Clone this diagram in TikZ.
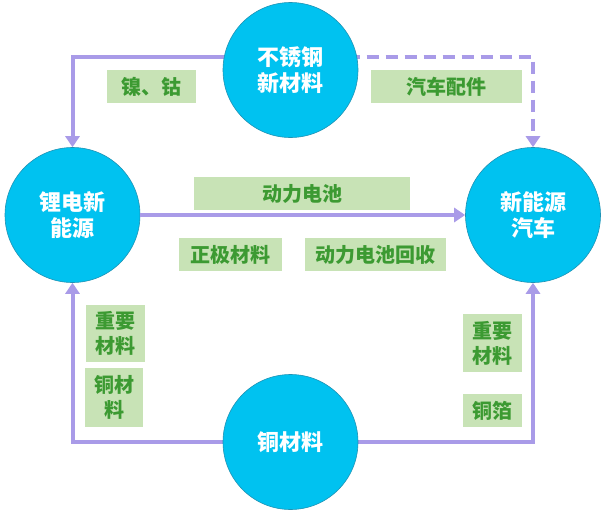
\documentclass[tikz,border=0pt]{standalone}
\usepackage{fontspec}
\setmainfont{Noto Sans CJK SC}[BoldFont={Noto Sans CJK SC Black}]
\usetikzlibrary{arrows.meta,backgrounds}
\definecolor{cyanfill}{HTML}{00C2F0}
\definecolor{cyanedge}{HTML}{1E93B5}
\definecolor{lav}{HTML}{A99BE8}
\definecolor{boxfill}{HTML}{C8E3B6}
\definecolor{boxtext}{HTML}{3C9A32}
\tikzset{
  hub/.style={circle,fill=cyanfill,draw=cyanedge,line width=0.6pt,minimum size=135pt,inner sep=0pt,
    text=white,font=\bfseries\fontsize{22}{26}\selectfont,align=center},
  tag/.style={rectangle,fill=boxfill,inner sep=0pt,text=boxtext,
    font=\bfseries\fontsize{20}{25}\selectfont,align=center},
  link/.style={draw=lav,line width=4pt,-{Triangle[width=14pt,length=11pt]}},
  dlink/.style={link,dash pattern=on 12pt off 7pt}
}
\begin{document}
\begin{tikzpicture}[x=1pt,y=-1pt]
\useasboundingbox (0,0) rectangle (606,525);
\node[hub] (top) at (290.5,70) {不锈钢\\新材料};
\node[hub] (li) at (72.5,215) {锂电新\\能源};
\node[hub] (ev) at (533,215) {新能源\\汽车};
\node[hub] (cu) at (290.5,442) {铜材料};
\begin{pgfonlayer}{background}
\fill[white] (0,0) rectangle (606,525);
\draw[link] ([yshift=13pt]top.center) -| (li.north);
\draw[dlink] ([yshift=13pt]top.center) -| (ev.north);
\draw[link] (cu.center) -| (li.south);
\draw[link] (cu.center) -| (ev.south);
\end{pgfonlayer}
\draw[link] (li.east) -- (ev.west);
\node[tag,minimum width=89pt,minimum height=33pt] (nico) at (151.5,86.5) {镍、钴};
\node[tag,minimum width=151pt,minimum height=33pt] (parts) at (446.5,86.5) {汽车配件};
\node[tag,minimum width=216pt,minimum height=33pt] (batt) at (302,193.5) {动力电池};
\node[tag,minimum width=103pt,minimum height=33pt] (cath) at (230.5,254.5) {正极材料};
\node[tag,minimum width=141pt,minimum height=33pt] (recyc) at (375.5,254.5) {动力电池回收};
\node[tag,minimum width=59pt,minimum height=57pt] (impl) at (115.5,333.5) {重要\\材料};
\node[tag,minimum width=58pt,minimum height=59pt] (cul) at (114,397.5) {铜材\\料};
\node[tag,minimum width=59pt,minimum height=58pt] (impr) at (492.5,343) {重要\\材料};
\node[tag,minimum width=59pt,minimum height=33pt] (foil) at (492.5,410.5) {铜箔};
\end{tikzpicture}
\end{document}
